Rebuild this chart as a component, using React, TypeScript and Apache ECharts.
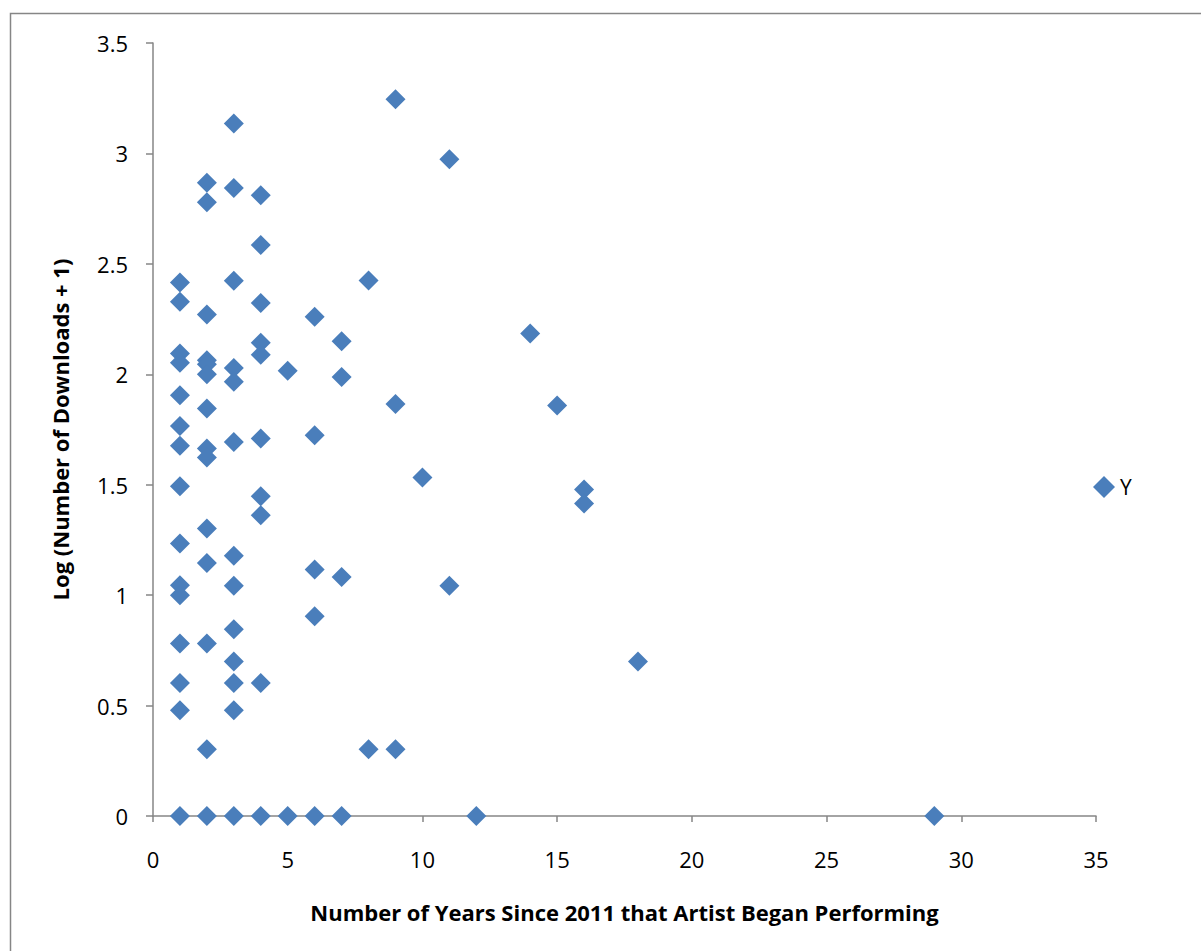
import React, { useEffect, useRef } from "react";
import * as echarts from "echarts";

const years: number[] = [
  1, 1, 1, 1, 1, 1, 1, 1, 1, 1, 1, 1, 1, 1, 1,
  2, 2, 2, 2, 2, 2, 2, 2, 2, 2, 2, 2, 2, 2,
  3, 3, 3, 3, 3, 3, 3, 3, 3, 3, 3, 3, 3,
  4, 4, 4, 4, 4, 4, 4, 4, 4, 4,
  5, 5,
  6, 6, 6, 6, 6,
  7, 7, 7, 7,
  8, 8,
  9, 9, 9,
  10,
  11, 11,
  12,
  14,
  15,
  16, 16,
  18,
  29,
];

const logDownloads: number[] = [
  2.416, 2.328, 2.094, 2.052, 1.905, 1.766, 1.676, 1.493, 1.234, 1.045, 1.0, 0.781, 0.602, 0.479, 0,
  2.867, 2.779, 2.271, 2.064, 2.045, 2.0, 1.845, 1.664, 1.623, 1.302, 1.146, 0.781, 0.302, 0,
  3.136, 2.843, 2.423, 2.029, 1.966, 1.693, 1.178, 1.042, 0.846, 0.7, 0.602, 0.479, 0,
  2.811, 2.585, 2.323, 2.143, 2.088, 1.709, 1.448, 1.362, 0.602, 0,
  2.016, 0,
  2.26, 1.724, 1.116, 0.904, 0,
  2.15, 1.988, 1.082, 0,
  2.425, 0.302,
  3.245, 1.865, 0.302,
  1.533,
  2.974, 1.043,
  0,
  2.185,
  1.859,
  1.478, 1.415,
  0.7,
  0,
];

const seriesName = "Y";
const xTitle = "Number of Years Since 2011 that Artist Began Performing";
const yTitle = "Log (Number of Downloads + 1)";

const FONT = "'Open Sans', 'Noto Sans', sans-serif";
const AXIS_COLOR = "#868686";
const MARK_COLOR = "#4A7EBB";

export default function App() {
  const ref = useRef<HTMLDivElement>(null);

  useEffect(() => {
    if (!ref.current) return;
    const chart = echarts.init(ref.current, undefined, { renderer: "svg" });
    const points = years.map((x, i) => [x, logDownloads[i]]);
    chart.setOption({
      animation: false,
      backgroundColor: "#ffffff",
      graphic: [
        {
          type: "rect",
          shape: { x: 10.5, y: 13.5, width: 1300, height: 1100 },
          style: { fill: "none", stroke: AXIS_COLOR, lineWidth: 1.5 },
          silent: true,
          z: -10,
        },
      ],
      grid: { left: 153, right: 105, top: 43, bottom: 135, containLabel: false },
      legend: {
        data: [{ name: seriesName, icon: "diamond" }],
        left: 1088,
        top: 471,
        itemWidth: 22,
        itemHeight: 22,
        itemGap: 1,
        textStyle: { fontFamily: FONT, fontSize: 21, color: "#000" },
      },
      xAxis: {
        type: "value",
        min: 0,
        max: 35,
        interval: 5,
        name: xTitle,
        nameLocation: "middle",
        nameGap: 85,
        nameTextStyle: { fontFamily: FONT, fontSize: 22, fontWeight: "bold", color: "#000" },
        axisLine: { show: true, onZero: false, lineStyle: { color: AXIS_COLOR, width: 1.5 } },
        axisTick: { show: true, inside: false, length: 6, lineStyle: { color: AXIS_COLOR, width: 1.5 } },
        axisLabel: { margin: 32, fontFamily: FONT, fontSize: 22, color: "#000" },
        splitLine: { show: false },
      },
      yAxis: {
        type: "value",
        min: 0,
        max: 3.5,
        interval: 0.5,
        name: yTitle,
        nameLocation: "middle",
        nameGap: 82,
        nameRotate: 90,
        nameTextStyle: { fontFamily: FONT, fontSize: 22, fontWeight: "bold", color: "#000" },
        axisLine: { show: true, onZero: false, lineStyle: { color: AXIS_COLOR, width: 1.5 } },
        axisTick: { show: true, inside: false, length: 7, lineStyle: { color: AXIS_COLOR, width: 1.5 } },
        axisLabel: { margin: 25, fontFamily: FONT, fontSize: 22, color: "#000" },
        splitLine: { show: false },
      },
      series: [
        {
          name: seriesName,
          type: "scatter",
          symbol: "diamond",
          symbolSize: [20, 20],
          itemStyle: { color: MARK_COLOR, opacity: 1 },
          data: points,
          clip: false,
        },
      ],
    });
    return () => chart.dispose();
  }, []);

  return (
    <div
      ref={ref}
      style={{ position: "fixed", left: 0, top: 0, width: 1201, height: 951, background: "#fff" }}
    />
  );
}
